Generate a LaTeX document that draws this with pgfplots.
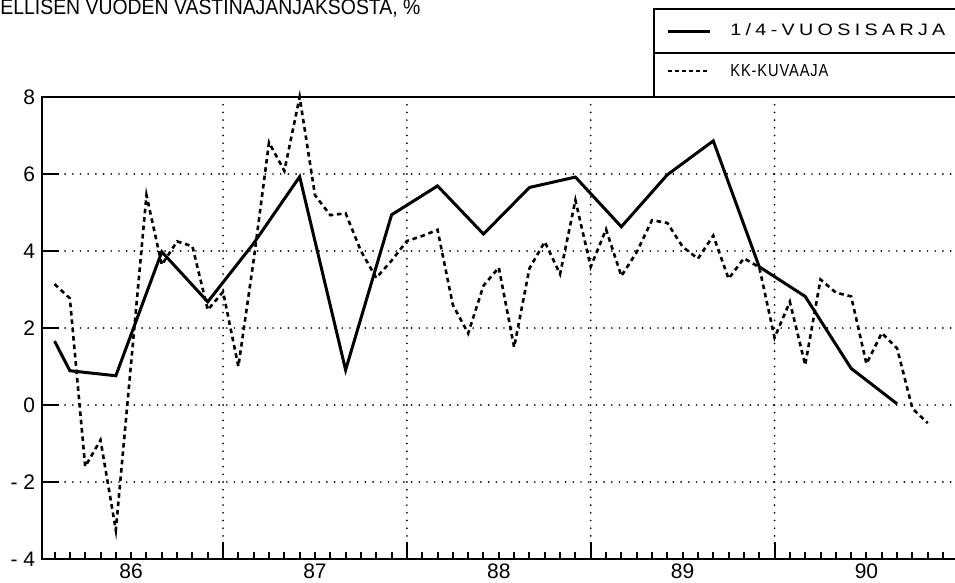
\documentclass[border=0pt]{standalone}
\usepackage{fontspec}
\setmainfont{Liberation Sans}
\usepackage{graphicx}
\usepackage{pgfplots}
\usepackage{pgfplotstable}
\pgfplotsset{compat=1.18}
\newfontfamily\plotfont{Liberation Sans}
\newfontfamily\legfont{Liberation Sans}[LetterSpace=22]
\newfontfamily\legfontb{Liberation Sans}[LetterSpace=6]

\pgfplotstableread{
m v
1 1.66
2 0.89
5 0.76
8 3.98
11 2.68
14 4.2
17 5.93
20 0.91
23 4.94
26 5.69
29 4.44
32 5.65
35 5.92
38 4.63
41 5.98
44 6.86
47 3.59
50 2.82
53 0.95
56 0.03
}\quarterly

\pgfplotstableread{
m v
1 3.14
2 2.77
3 -1.6
4 -0.91
5 -3.25
6 1.1
7 5.45
8 3.64
9 4.25
10 4.12
11 2.47
12 2.94
13 1.0
14 3.77
15 6.82
16 6.08
17 8.0
18 5.45
19 4.93
20 4.98
21 4.0
22 3.3
23 3.75
24 4.26
25 4.39
26 4.55
27 2.6
28 1.86
29 3.1
30 3.57
31 1.5
32 3.55
33 4.24
34 3.4
35 5.32
36 3.59
37 4.56
38 3.35
39 3.97
40 4.8
41 4.73
42 4.11
43 3.8
44 4.4
45 3.28
46 3.81
47 3.58
48 1.75
49 2.68
50 1.04
51 3.26
52 2.92
53 2.82
54 1.07
55 1.87
56 1.47
57 -0.09
58 -0.47
}\monthly

\begin{document}
\begin{tikzpicture}
\begin{axis}[
  scale only axis, width=456.5pt, height=231pt,
  xmin=0.18, xmax=59.78, ymin=-4, ymax=8,
  clip=false,
  axis line style={draw=none},
  tick align=inside, tick pos=left,
  xtick={12,24,36,48}, xticklabels={},
  minor xtick={1,...,59},
  extra x ticks={6,18,30,42,54},
  extra x tick labels={86,87,88,89,90},
  extra x tick style={xmajorgrids=false, major tick length=0pt},
  ytick={-4,-2,0,2,4,6,8},
  yticklabels={- 4,- 2,0,2,4,6,8},
  major tick length=8.5pt, minor tick length=3.5pt,
  every tick/.style={black, line width=1pt},
  xmajorgrids, ymajorgrids,
  major grid style={black, line width=0.95pt, line cap=round, dash pattern=on 0pt off 3.85pt},
  ticklabel style={font=\plotfont\fontsize{10.5}{12}\selectfont},
  xticklabel style={inner sep=0pt, anchor=north, yshift=-2pt},
  yticklabel style={inner sep=0pt, anchor=east, xshift=-3.25pt},
]
\addplot[black, line width=1.5pt] table[x=m, y=v] {\quarterly};
\addplot[black, line width=1.3pt, dash pattern=on 2.3pt off 1.9pt] table[x=m, y=v] {\monthly};
\coordinate (BL) at (rel axis cs:0,0);
\coordinate (TR) at (rel axis cs:1,1);
\coordinate (TL) at (rel axis cs:0,1);
\end{axis}
% axis frame (left, bottom, top)
\draw[line width=1.2pt] ([xshift=12pt]TR) -- (TL) -- (BL) -- ([xshift=12pt]TR |- BL);
% title (cut off at left)
\node[anchor=base west, inner sep=0pt] at ([shift={(-21pt,41pt)}]TL)
  {\resizebox{210pt}{7.5pt}{\plotfont ELLISEN VUODEN VASTINAJANJAKSOSTA, \%}};
% legend box
\draw[line width=1pt] ([shift={(306pt,0pt)}]TL) -- ([shift={(306pt,44pt)}]TL) -- ([shift={(12pt,44pt)}]TR);
\draw[line width=1pt] ([shift={(306pt,22pt)}]TL) -- ([shift={(12pt,22pt)}]TR);
\draw[black, line width=1.5pt] ([shift={(313pt,32.5pt)}]TL) -- ([shift={(334pt,32.5pt)}]TL);
\draw[black, line width=1.1pt, dash pattern=on 2pt off 1.5pt] ([shift={(313pt,13pt)}]TL) -- ([shift={(334pt,13pt)}]TL);
\node[anchor=base west, inner sep=0pt] at ([shift={(344pt,30.5pt)}]TL)
  {\resizebox{107.5pt}{6pt}{\legfont 1/4-VUOSISARJA}};
\node[anchor=base west, inner sep=0pt] at ([shift={(344pt,10pt)}]TL)
  {\resizebox{49pt}{6pt}{\legfontb KK-KUVAAJA}};
\pgfresetboundingbox
\path[use as bounding box] ([shift={(-21pt,-11.5pt)}]BL) rectangle ([shift={(0pt,48.5pt)}]TR);
\end{tikzpicture}
\end{document}
